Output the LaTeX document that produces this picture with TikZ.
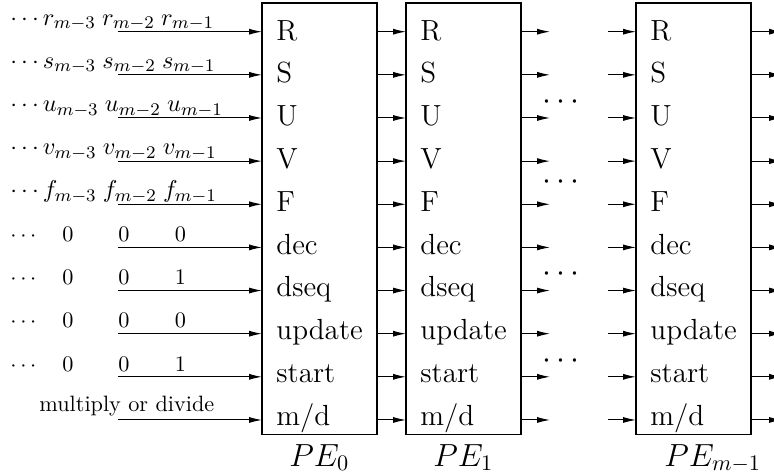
\documentclass[tikz,border=0pt]{standalone}
\usetikzlibrary{arrows.meta}
\newcommand{\seqgap}{\hskip 2.8pt}
\begin{document}
\begin{tikzpicture}[x=0.45pt,y=-0.45pt,
  pebox/.style={draw, line width=0.5pt, inner sep=0, outer sep=0,
    minimum width=51.75pt, minimum height=194pt, anchor=north west},
  arr/.style={-{Latex[length=5.8pt,width=2.7pt]}, line width=0.45pt},
  port/.style={font=\fontsize{13.1}{15}\selectfont, inner sep=0, anchor=base west},
  lab/.style={font=\fontsize{10}{12}\selectfont, inner sep=0, anchor=base west},
  seq/.style={font=\fontsize{10.95}{13}\selectfont, inner sep=0, anchor=base west},
  bit/.style={font=\fontsize{10}{12}\selectfont, inner sep=0, anchor=base},
  pename/.style={font=\fontsize{14.4}{17}\selectfont, inner sep=0, anchor=base west},
  gapdots/.style={font=\fontsize{14.4}{17}\selectfont, inner sep=0, anchor=base}]
\useasboundingbox (0,0) rectangle (774,475);

% processing elements
\node[pebox] (pe0) at (262,3) {};
\node[pebox] (pe1) at (406,3) {};
\node[pebox] (pem) at (636,3) {};

\node[pename] (pe0name) at (289,466) {$PE_0$};
\node[pename] (pe1name) at (433,466) {$PE_1$};
\node[pename] (pemname) at (664,466) {$PE_{m-1}$};

% signal rows: port names and the chain of connectors
\foreach \t [count=\k from 0] in {R,S,U,V,F,dec,dseq,update,start,m/d} {
  \pgfmathsetmacro\ya{31.7+43.14*\k}
  \pgfmathsetmacro\yt{40+42.8*\k}
  \coordinate (in\k) at (118,\ya);
  \coordinate (gapa\k) at (550,\ya);
  \coordinate (gapb\k) at (608,\ya);
  \coordinate (out\k) at (782,\ya);
  \node[port] (pa\k) at (276,\yt) {\t};
  \node[port] (pb\k) at (420,\yt) {\t};
  \node[port] (pc\k) at (650,\yt) {\t};
  \draw[arr] (in\k) -- (pe0.west |- in\k);
  \draw[arr] (pe0.east |- in\k) -- (pe1.west |- in\k);
  \draw[arr] (pe1.east |- in\k) -- (gapa\k);
  \draw[arr] (gapb\k) -- (pem.west |- in\k);
  \draw[arr] (pem.east |- in\k) -- (out\k);
}

% elided processing elements
\node[gapdots] (dotsa) at (561,109.7) {$\cdots$};
\node[gapdots] (dotsb) at (561,189.7) {$\cdots$};
\node[gapdots] (dotsc) at (561,281.3) {$\cdots$};
\node[gapdots] (dotsd) at (561,368.7) {$\cdots$};

% input sequences
\node[seq] (seqr) at (10,25.2) {$\cdots r_{m-3}\seqgap r_{m-2}\seqgap r_{m-1}$};
\node[seq] (seqs) at (10,68.3) {$\cdots s_{m-3}\seqgap s_{m-2}\seqgap s_{m-1}$};
\node[seq] (sequ) at (10,111.5) {$\cdots u_{m-3}\seqgap u_{m-2}\seqgap u_{m-1}$};
\node[seq] (seqv) at (10,154.6) {$\cdots v_{m-3}\seqgap v_{m-2}\seqgap v_{m-1}$};
\node[seq] (seqf) at (10,197.8) {$\cdots f_{m-3}\seqgap f_{m-2}\seqgap f_{m-1}$};

\foreach \a/\b/\c [count=\k from 5] in {0/0/0,0/0/1,0/0/0,0/0/1} {
  \pgfmathsetmacro\yb{31.7+43.14*\k-5.8}
  \node[lab] (cd\k) at (10,\yb) {$\cdots$};
  \node[bit] (bita\k) at (68,\yb) {\a};
  \node[bit] (bitb\k) at (124,\yb) {\b};
  \node[bit] (bitc\k) at (180.5,\yb) {\c};
}
\node[lab] (mode) at (39,411.7) {multiply or divide};
\end{tikzpicture}
\end{document}
